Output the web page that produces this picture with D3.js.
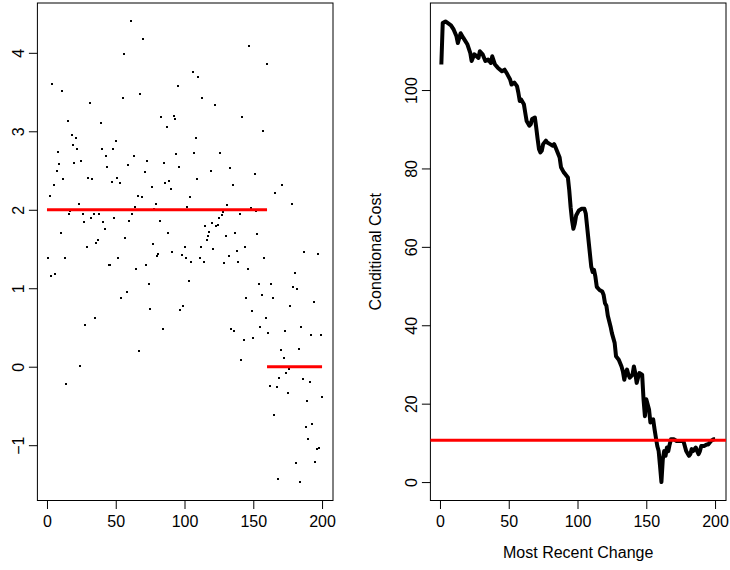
<!DOCTYPE html>
<html lang="en">
<head>
<meta charset="utf-8">
<title>Change point cost</title>
<script src="https://cdn.jsdelivr.net/npm/d3@7"></script>
<style>
  body { margin: 0; background: #fff; }
  text { font-family: "Liberation Sans", Arial, sans-serif; font-size: 16px; fill: #000; }
</style>
</head>
<body>
<script>
// observations, one per time step (1..200)
var obsValues = [1.38,2.18,1.16,3.60,2.32,1.18,2.49,2.74,2.58,1.70,
  3.51,2.39,1.38,-0.22,3.13,1.95,1.98,2.95,2.82,2.59,
  2.92,2.78,2.07,0.01,2.62,1.94,1.84,0.53,1.52,2.41,
  3.36,1.89,2.39,1.94,0.62,1.58,1.61,1.94,3.10,2.77,
  1.84,1.75,2.69,2.55,1.30,1.29,2.36,2.77,1.89,2.88,
  2.40,1.38,2.34,0.87,3.43,3.98,1.64,0.95,2.57,1.86,
  4.40,1.95,2.69,2.03,1.25,2.18,0.20,3.47,2.16,4.17,
  2.48,1.29,2.62,1.06,0.74,2.29,1.56,2.01,2.07,1.41,
  1.43,1.86,3.18,0.48,2.59,2.34,3.06,1.70,2.37,2.27,
  1.46,3.20,3.16,2.71,3.58,2.55,0.72,1.42,0.77,1.52,
  1.38,2.04,1.09,2.16,1.34,3.76,2.72,2.91,2.39,3.69,
  1.38,1.53,3.43,1.34,1.79,1.61,1.67,1.72,2.49,1.83,
  1.50,3.34,1.79,1.81,1.90,2.72,1.93,1.97,1.32,1.67,
  2.06,1.41,2.53,0.48,2.31,0.46,1.70,1.47,1.34,1.94,
  0.08,3.18,0.34,1.53,0.88,1.25,4.09,2.02,0.71,0.36,
  2.45,1.98,1.69,1.06,0.51,0.92,3.00,1.38,0.62,3.86,
  0.43,-0.24,1.06,0.88,-0.62,2.21,-0.26,-1.43,-0.15,0.21,
  2.31,0.11,0.45,-0.08,-0.34,-0.03,0.78,2.07,1.02,1.20,
  -1.23,0.99,0.22,-1.47,0.51,-0.16,1.46,-0.77,-0.44,-0.92,
  -0.19,0.40,-0.73,0.83,-1.22,-1.05,1.44,-1.03,0.41,-0.39];

// true segment means
var segStart = [0, 160];
var segEnd = [160, 200];
var segLevel = [2, 0];

// conditional cost against position of the most recent change
var costX = [1,2,4,8,10,12,13,15,17,20,22,23,25,28,29,31,33,35,37,38,
  40,42,45,47,49,51,52,54,56,57,58,59,61,62,63,65,66,67,69,70,
  71,72,73,74,75,77,78,80,82,83,84,87,88,90,91,93,94,95,96,97,
  98,99,101,103,105,106,107,108,109,110,111,112,113,114,116,118,119,120,121,122,
  124,125,127,128,130,132,133,134,135,136,137,138,140,141,142,143,144,145,147,148,
  149,150,152,153,155,156,157,158,159,160,161,162,163,164,165,166,167,168,170,172,
  173,175,177,178,179,181,182,183,184,186,187,188,189,190,192,194,195,197,199,200];
var costY = [106.5,117.1,117.5,116.5,115.4,113.7,112,114.5,113.3,111.6,109.5,107.4,109.1,108.2,109.9,109.1,107.4,107.8,106.9,108.6,
  106.5,105.7,104.8,105.2,104,102.7,101.4,101.9,101,99.3,97.2,97.6,96.4,94.2,92.1,90.9,91.3,92.6,93,90.4,
  87.5,84.9,84.1,84.5,86.2,87.1,86.6,86.2,85.8,86.2,85.4,82.8,80.3,79,78.6,77.7,74.4,70.1,66.8,64.6,
  65.9,68,69.3,69.7,69.7,68.5,65.1,61.7,58.3,54.9,53.6,54.1,52.4,49.8,49,48.6,47.7,45.6,45,42.5,
  39.7,38,35.5,32.1,31.2,29.5,28.2,26.1,27.8,28.7,27.4,26.6,27.4,29.5,27.8,25.3,26.6,27.8,27.4,21.1,
  16.8,21.1,18.5,15.2,16,13.5,11.3,9.2,7.9,4.1,0,5.8,7.9,6.7,8.8,7.9,9.6,10.9,10.9,10.5,
  10.5,10.5,10.5,9.2,7.9,6.7,7.1,8.4,7.9,8.8,7.9,7.1,7.9,9.2,9.2,9.6,9.6,10.5,10.9,10.9];
var costLevel = 10.7;

var xTicks = [0, 50, 100, 150, 200];
var obsTicks = [-1, 0, 1, 2, 3, 4];
var costTicks = [0, 20, 40, 60, 80, 100];

var W = 730, H = 570;
var plotTop = 3, plotBottom = 500.5;

var svg = d3.select('body').append('svg')
    .attr('width', W)
    .attr('height', H);

// R style: data range + 4% on each side
function padded(ext) {
  var d = (ext[1] - ext[0]) * 0.04;
  return [ext[0] - d, ext[1] + d];
}

function panel(left, right, xDom, yDom, yTicks) {
  var g = svg.append('g');
  var x = d3.scaleLinear().domain(padded(xDom)).range([left, right]);
  var y = d3.scaleLinear().domain(padded(yDom)).range([plotBottom, plotTop]);
  var fmt = d3.format('d');

  var ax = g.append('g')
      .attr('transform', 'translate(0,' + plotBottom + ')')
      .call(d3.axisBottom(x).tickValues(xTicks).tickFormat(fmt).tickSize(8.5).tickSizeOuter(0));
  ax.select('.domain').remove();
  ax.selectAll('text').attr('y', 26).attr('dy', 0);

  var ay = g.append('g')
      .attr('transform', 'translate(' + left + ',0)')
      .call(d3.axisLeft(y).tickValues(yTicks).tickFormat(fmt).tickSize(8.5).tickSizeOuter(0));
  ay.select('.domain').remove();
  ay.selectAll('text')
      .attr('transform', 'rotate(-90)')
      .attr('x', 0).attr('y', -13.5).attr('dy', 0)
      .attr('text-anchor', 'middle');

  g.selectAll('.tick line').attr('stroke', '#000');
  g.selectAll('.tick text').style('font-family', '"Liberation Sans", Arial, sans-serif').style('font-size', '16px');

  g.append('rect')
      .attr('x', left).attr('y', plotTop)
      .attr('width', right - left).attr('height', plotBottom - plotTop)
      .attr('fill', 'none').attr('stroke', '#000').attr('stroke-width', 1);

  return { g: g, x: x, y: y };
}

// left: observations
var idx = obsValues.map(function (v, i) { return i + 1; });
var p1 = panel(37.4, 333, d3.extent(idx), d3.extent(obsValues), obsTicks);

p1.g.selectAll('rect.pt')
    .data(obsValues)
    .enter()
    .append('rect')
    .attr('class', 'pt')
    .attr('x', function (d, i) { return Math.round(p1.x(i + 1) - 1); })
    .attr('y', function (d) { return Math.round(p1.y(d) - 1); })
    .attr('width', 2)
    .attr('height', 2)
    .attr('shape-rendering', 'crispEdges')
    .attr('fill', '#000');

p1.g.selectAll('line.seg')
    .data(segLevel)
    .enter()
    .append('line')
    .attr('class', 'seg')
    .attr('x1', function (d, i) { return p1.x(segStart[i]); })
    .attr('x2', function (d, i) { return p1.x(segEnd[i]); })
    .attr('y1', function (d) { return p1.y(d); })
    .attr('y2', function (d) { return p1.y(d); })
    .attr('stroke', '#ff0000')
    .attr('stroke-width', 3);

// right: conditional cost
var p2 = panel(430.4, 726, d3.extent(costX), d3.extent(costY), costTicks);

var line = d3.line()
    .x(function (d, i) { return p2.x(costX[i]); })
    .y(function (d) { return p2.y(d); });

p2.g.append('path')
    .datum(costY)
    .attr('d', line)
    .attr('fill', 'none')
    .attr('stroke', '#000')
    .attr('stroke-width', 4)
    .attr('stroke-linejoin', 'round');

p2.g.append('line')
    .attr('x1', p2.x.range()[0])
    .attr('x2', p2.x.range()[1])
    .attr('y1', p2.y(costLevel))
    .attr('y2', p2.y(costLevel))
    .attr('stroke', '#ff0000')
    .attr('stroke-width', 3);

p2.g.append('text')
    .attr('x', (p2.x.range()[0] + p2.x.range()[1]) / 2)
    .attr('y', 558)
    .attr('text-anchor', 'middle')
    .text('Most Recent Change');

p2.g.append('text')
    .attr('transform', 'translate(381,' + (plotTop + plotBottom) / 2 + ') rotate(-90)')
    .attr('text-anchor', 'middle')
    .text('Conditional Cost');
</script>
</body>
</html>
